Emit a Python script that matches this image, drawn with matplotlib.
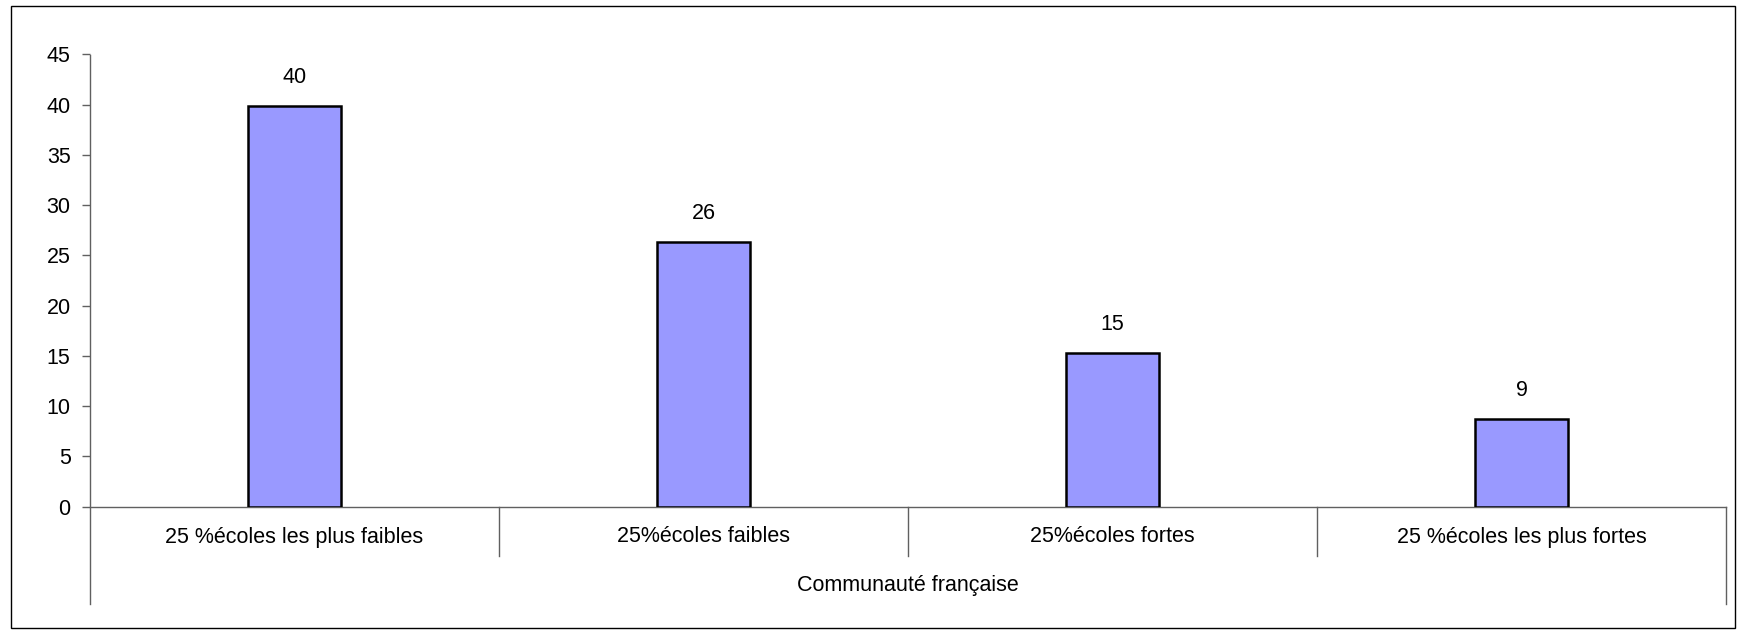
import matplotlib
matplotlib.use("Agg")
import matplotlib.pyplot as plt
from matplotlib.patches import Rectangle

plt.rcParams['font.family'] = ['Liberation Sans', 'DejaVu Sans']

categories = ["25 %écoles les plus faibles", "25%écoles faibles",
              "25%écoles fortes", "25 %écoles les plus fortes"]
values = [39.9, 26.3, 15.3, 8.7]
value_labels = ["40", "26", "15", "9"]
group_label = "Communauté française"
yticks = [0, 5, 10, 15, 20, 25, 30, 35, 40, 45]

W, H = 1742, 633
fig = plt.figure(figsize=(W / 100, H / 100), dpi=100)
left, right = 90 / W, 1726 / W
top_px, bot_px = 54.5, 506.7
ax = fig.add_axes([left, 1 - bot_px / H, right - left, (bot_px - top_px) / H])

axis_col = '#606060'
fs = 15.5
x = list(range(len(categories)))
ax.bar(x, values, width=0.227, color='#9999FF', edgecolor='black', linewidth=1.8, zorder=3)
for xi, v, lab in zip(x, values, value_labels):
    ax.annotate(lab, (xi, v), xytext=(0, 13), textcoords='offset points',
                ha='center', va='bottom', fontsize=fs, color='black')

ax.set_xlim(-0.5, len(categories) - 0.5)
ax.set_ylim(0, 45)
ax.set_yticks(yticks)
ax.set_yticklabels([str(t) for t in yticks], fontsize=fs)
ax.tick_params(axis='y', length=6, width=1, color=axis_col, pad=8)
ax.set_xticks([])
for s in ['top', 'right', 'left']:
    ax.spines[s].set_visible(False)
ax.spines['bottom'].set_color(axis_col)
ax.spines['bottom'].set_linewidth(1)

h_ax = bot_px - top_px
sep_bot = -(556 - bot_px) / h_ax
outer_bot = -(604 - bot_px) / h_ax
tr = ax.get_xaxis_transform()
# outer lines (y axis and right end)
for xb in [-0.5, len(categories) - 0.5]:
    ax.plot([xb, xb], [outer_bot, 1 if xb < 0 else 0], transform=tr,
            color=axis_col, lw=1, clip_on=False)
# separators
for xb in [0.5 + i for i in range(len(categories) - 1)]:
    ax.plot([xb, xb], [sep_bot, 0], transform=tr, color=axis_col, lw=1, clip_on=False)

lab_y = -(537 - bot_px) / h_ax
for xi, c in zip(x, categories):
    ax.text(xi, lab_y, c, transform=tr, ha='center', va='center', fontsize=fs)
grp_y = -(586 - bot_px) / h_ax
ax.text((len(categories) - 1) / 2, grp_y, group_label, transform=tr,
        ha='center', va='center', fontsize=fs)

fig.patches.append(Rectangle((11 / W, 1 - 628 / H), (1735 - 11) / W, (628 - 6) / H,
                             transform=fig.transFigure, fill=False,
                             edgecolor='black', linewidth=1))

fig.savefig('out.png', dpi=100)
